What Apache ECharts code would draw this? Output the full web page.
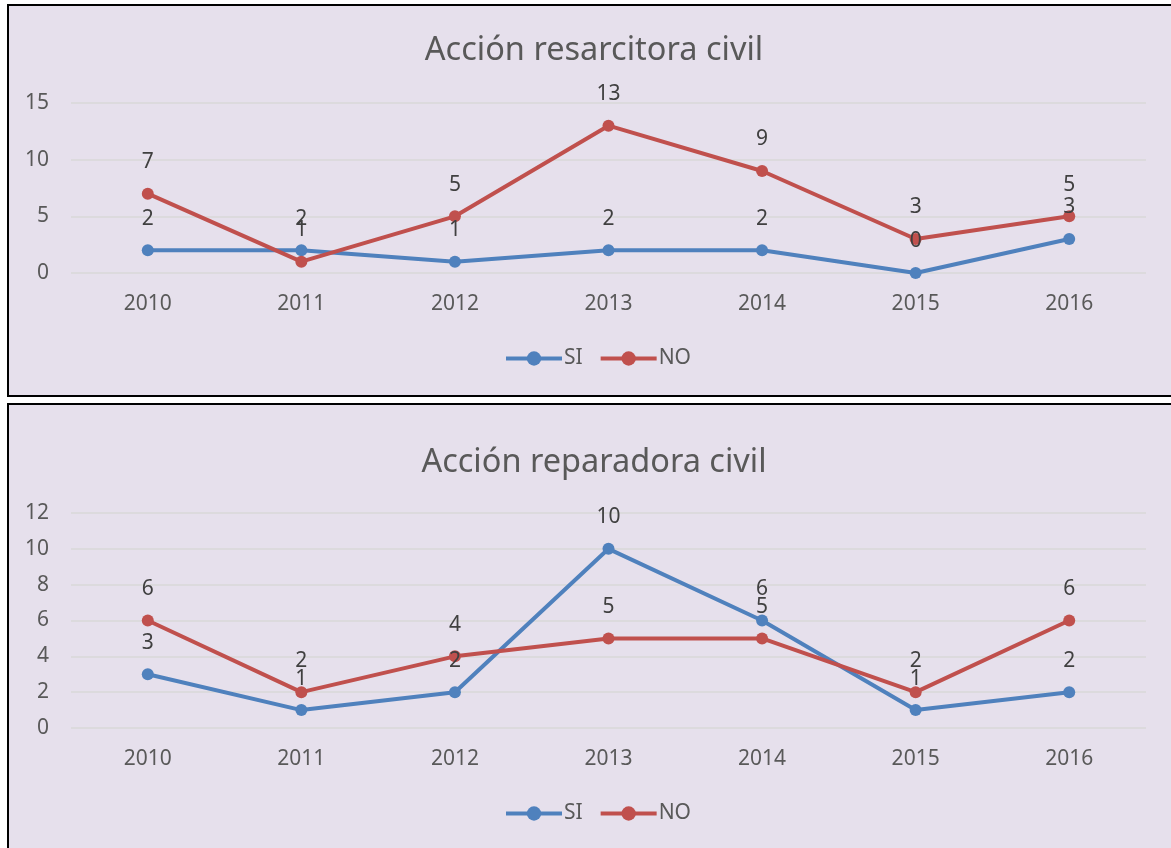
<!DOCTYPE html>
<html>
<head>
<meta charset="utf-8">
<script src="https://cdn.jsdelivr.net/npm/echarts@6/dist/echarts.min.js"></script>
<style>
  html, body { margin: 0; padding: 0; background: #fff; }
  #chart { width: 1171px; height: 848px; }
</style>
</head>
<body>
<div id="chart"></div>
<script>
const years = ['2010', '2011', '2012', '2013', '2014', '2015', '2016']
const seriesNames = ['SI', 'NO']
// Acción resarcitora civil
const resarcitoraSi = [2, 2, 1, 2, 2, 0, 3]
const resarcitoraNo = [7, 1, 5, 13, 9, 3, 5]
// Acción reparadora civil
const reparadoraSi = [3, 1, 2, 10, 6, 1, 2]
const reparadoraNo = [6, 2, 4, 5, 5, 2, 6]
const titles = ['Acción resarcitora civil', 'Acción reparadora civil']

const font = 'Noto Sans'
const blue = '#4F81BD'
const red = '#C0504D'
const bg = '#E6E0EC'

function lineSeries(name, color, data, idx) {
  return {
    name: name,
    type: 'line',
    xAxisIndex: idx,
    yAxisIndex: idx,
    data: data,
    symbol: 'circle',
    symbolSize: 12,
    color: color,
    lineStyle: { width: 4, color: color },
    itemStyle: { color: color },
    label: {
      show: true,
      position: 'top',
      distance: 15,
      color: '#404040',
      fontSize: 21,
      fontFamily: font
    },
    emphasis: { disabled: true },
    animation: false
  }
}

function xAxis(idx) {
  return {
    type: 'category',
    gridIndex: idx,
    data: years,
    axisLine: { show: false },
    axisTick: { show: false },
    axisLabel: { color: '#595959', fontSize: 21, fontFamily: font, margin: 21 }
  }
}

function yAxis(idx, max, interval) {
  return {
    type: 'value',
    gridIndex: idx,
    min: 0,
    max: max,
    interval: interval,
    axisLine: { show: false },
    axisTick: { show: false },
    axisLabel: { color: '#595959', fontSize: 21, fontFamily: font, margin: 22 },
    splitLine: { lineStyle: { color: '#D9D9D9', width: 1.5 } }
  }
}

function legend(top) {
  return {
    data: seriesNames,
    top: top,
    left: 504,
    padding: 0,
    itemWidth: 56,
    itemHeight: 18,
    itemGap: 16,
    lineStyle: { width: 4 },
    textStyle: { color: '#595959', fontSize: 21, fontFamily: font, padding: [0, 0, 0, -3] }
  }
}

const chart = echarts.init(document.getElementById('chart'))
chart.setOption({
  animation: false,
  graphic: [
    { type: 'rect', z: -10, shape: { x: 8, y: 5, width: 1180, height: 391 },
      style: { fill: bg, stroke: '#000', lineWidth: 2 } },
    { type: 'rect', z: -10, shape: { x: 8, y: 404, width: 1180, height: 460 },
      style: { fill: bg, stroke: '#000', lineWidth: 2 } }
  ],
  title: [
    { text: titles[0], left: 589, top: 29, textAlign: 'center',
      textStyle: { color: '#595959', fontSize: 32.5, fontWeight: 'normal', fontFamily: font } },
    { text: titles[1], left: 589, top: 441, textAlign: 'center',
      textStyle: { color: '#595959', fontSize: 32.5, fontWeight: 'normal', fontFamily: font } }
  ],
  legend: [legend(348), legend(803)],
  grid: [
    { left: 71, right: 25, top: 103, height: 170 },
    { left: 71, right: 25, top: 513, height: 215 }
  ],
  xAxis: [xAxis(0), xAxis(1)],
  yAxis: [yAxis(0, 15, 5), yAxis(1, 12, 2)],
  series: [
    lineSeries('SI', blue, resarcitoraSi, 0),
    lineSeries('NO', red, resarcitoraNo, 0),
    lineSeries('SI', blue, reparadoraSi, 1),
    lineSeries('NO', red, reparadoraNo, 1)
  ]
})
</script>
</body>
</html>
